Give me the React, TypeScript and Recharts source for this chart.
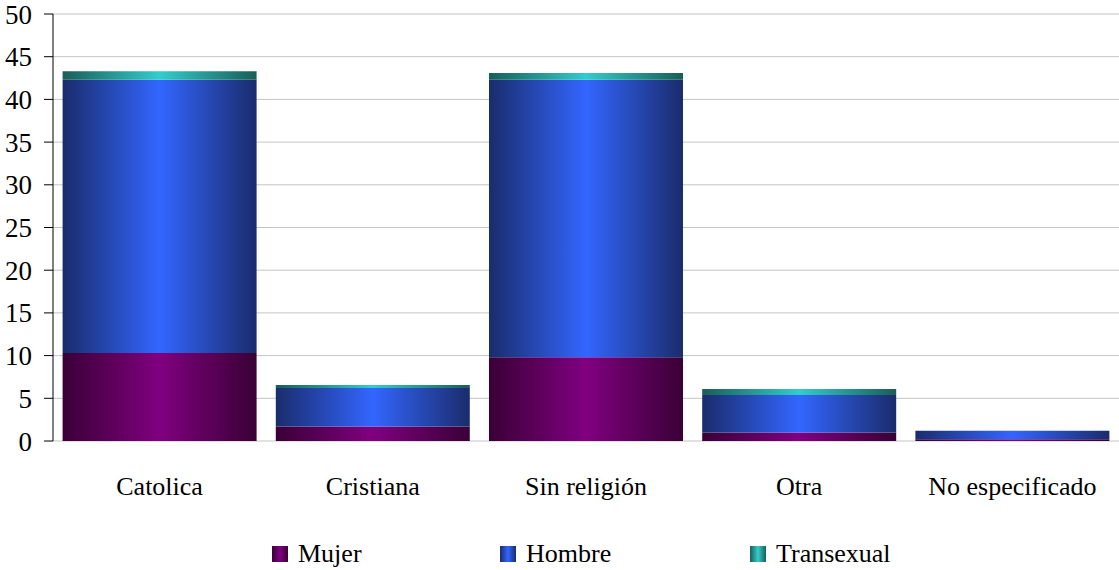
import React from 'react';
import { BarChart, Bar, XAxis, YAxis, CartesianGrid, Legend } from 'recharts';

const categories = ['Catolica', 'Cristiana', 'Sin religión', 'Otra', 'No especificado'];
const mujer = [10.3, 1.7, 9.8, 1.0, 0.2];
const hombre = [32.0, 4.5, 32.5, 4.4, 1.0];
const transexual = [1.0, 0.35, 0.8, 0.7, 0];
const yTicks = [0, 5, 10, 15, 20, 25, 30, 35, 40, 45, 50];

const data = categories.map((name, i) => ({
    name,
    Mujer: mujer[i],
    Hombre: hombre[i],
    Transexual: transexual[i],
}));

const font = "'Liberation Serif', 'DejaVu Serif', serif";

const series = [
    { key: 'Mujer', id: 'gMujer', edge: '#3a0036', mid: '#800080', width: 228 },
    { key: 'Hombre', id: 'gHombre', edge: '#1a2c6c', mid: '#3366ff', width: 250 },
    { key: 'Transexual', id: 'gTrans', edge: '#1a5e58', mid: '#33cccc', width: 200 },
];

const Gradient = ({ id, edge, mid }: { id: string; edge: string; mid: string }) => (
    <linearGradient id={id} x1="0" y1="0" x2="1" y2="0">
        <stop offset="0%" stopColor={edge} />
        <stop offset="50%" stopColor={mid} />
        <stop offset="100%" stopColor={edge} />
    </linearGradient>
);

const LegendContent = () => (
    <div style={{ display: 'flex', alignItems: 'center', fontFamily: font, fontSize: 26, color: '#000', paddingLeft: 272, paddingTop: 9 }}>
        {series.map((s) => (
            <div key={s.key} style={{ display: 'flex', alignItems: 'center', width: s.width }}>
                <span
                    style={{
                        display: 'inline-block',
                        width: 16,
                        height: 16,
                        marginRight: 10,
                        background: `linear-gradient(to right, ${s.edge}, ${s.mid}, ${s.edge})`,
                    }}
                />
                {s.key}
            </div>
        ))}
    </div>
);

const App: React.FC = () => {
    return (
        <div style={{ position: 'absolute', left: 0, top: 0, background: '#fff', fontFamily: font }}>
            <BarChart
                width={1119}
                height={570}
                data={data}
                margin={{ top: 14, right: 0, left: 0, bottom: 0 }}
                barCategoryGap="4.5%"
                style={{ fontFamily: font }}
            >
                <defs>
                    {series.map((s) => (
                        <Gradient key={s.id} id={s.id} edge={s.edge} mid={s.mid} />
                    ))}
                </defs>
                <CartesianGrid vertical={false} stroke="#c4c4c4" />
                <XAxis
                    dataKey="name"
                    height={89}
                    axisLine={false}
                    tickLine={false}
                    tickMargin={30}
                    tick={{ fill: '#000', fontSize: 26, fontFamily: font }}
                />
                <YAxis
                    width={53}
                    domain={[0, 50]}
                    ticks={yTicks}
                    interval={0}
                    axisLine={{ stroke: '#000' }}
                    tickLine={{ stroke: '#000' }}
                    tickSize={9}
                    tickMargin={12}
                    tick={{ fill: '#000', fontSize: 27, fontFamily: font }}
                />
                <Legend verticalAlign="bottom" height={40} content={<LegendContent />} />
                {series.map((s) => (
                    <Bar key={s.key} dataKey={s.key} stackId="a" fill={`url(#${s.id})`} isAnimationActive={false} />
                ))}
            </BarChart>
        </div>
    );
};

export default App;
